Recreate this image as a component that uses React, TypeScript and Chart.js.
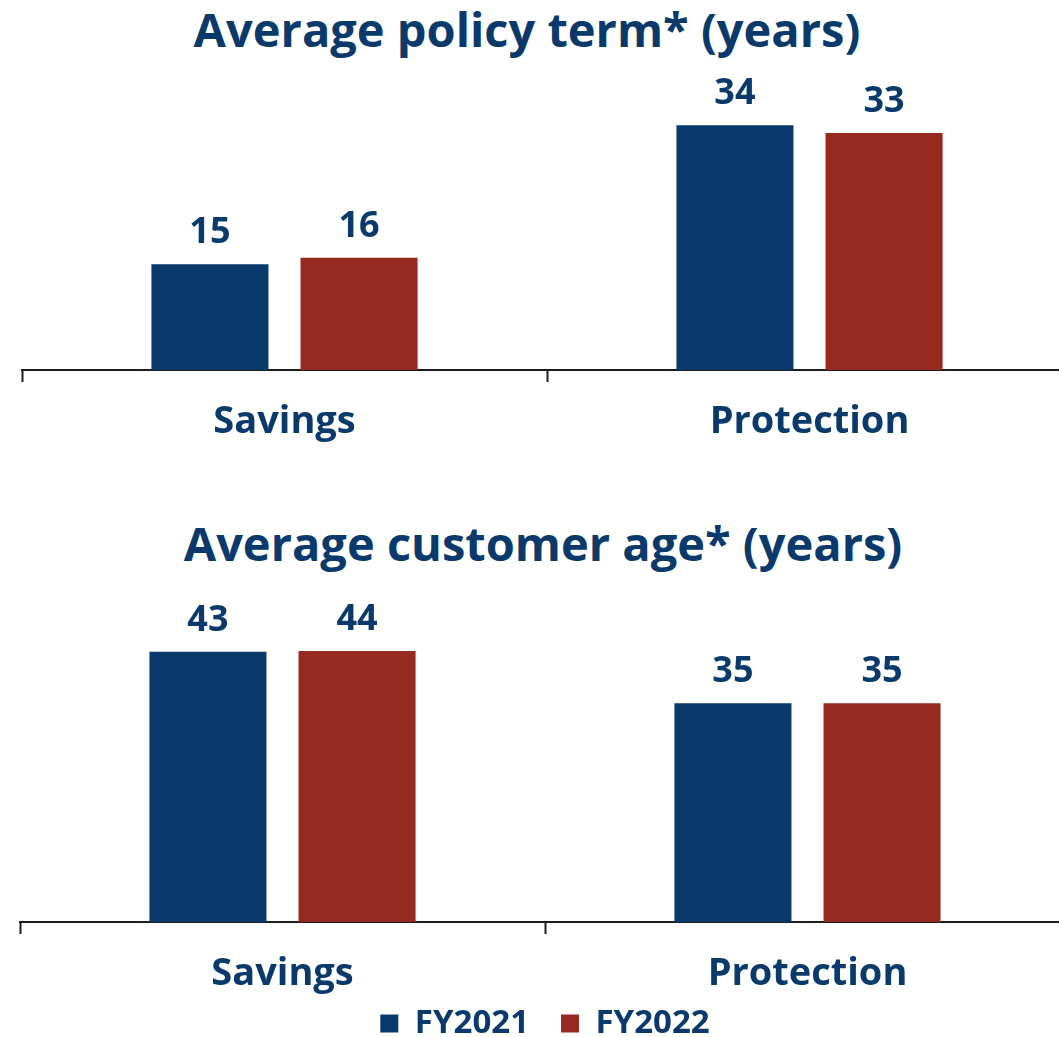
import React, { useEffect, useRef } from 'react';
import { Chart, registerables } from 'chart.js';

Chart.register(...registerables);

// ---- data ----
const categories = ['Savings', 'Protection'];
const seriesNames = ['FY2021', 'FY2022'];
const policyTermFY2021 = [14.7, 34.0];
const policyTermFY2022 = [15.6, 32.9];
const customerAgeFY2021 = [43.4, 35.1];
const customerAgeFY2022 = [43.5, 35.1];
const titles = ['Average policy term* (years)', 'Average customer age* (years)'];

// ---- styles ----
const BLUE = '#0a3a6b';
const RED = '#962920';
const AXIS = '#1c1c1c';
const FONT = '"Open Sans", Lato, "Noto Sans", sans-serif';

const valueLabels = {
  id: 'valueLabels',
  afterDatasetsDraw(chart: any) {
    const ctx = chart.ctx;
    ctx.save();
    ctx.font = `bold 36px ${FONT}`;
    ctx.fillStyle = BLUE;
    ctx.textAlign = 'center';
    ctx.textBaseline = 'alphabetic';
    chart.data.datasets.forEach((ds: any, i: number) => {
      const meta = chart.getDatasetMeta(i);
      meta.data.forEach((bar: any, j: number) => {
        ctx.fillText(String(Math.round(ds.data[j])), bar.x, bar.y - 21);
      });
    });
    ctx.restore();
  },
};

// moves the legend box up after layout (so it can sit closer to the axis labels)
const legendShift = {
  id: 'legendShift',
  afterLayout(chart: any, _args: any, opts: any) {
    const lg = chart.legend;
    if (lg && opts && opts.shift) {
      lg.top -= opts.shift;
      lg.bottom -= opts.shift;
    }
  },
};

function makeConfig(
  a: number[],
  b: number[],
  yMax: number,
  padding: any,
  axisHeight: number,
  showLegend: boolean,
  shift: number
): any {
  const common = { categoryPercentage: 0.568, barPercentage: 0.785, borderWidth: 0 };
  return {
    type: 'bar',
    data: {
      labels: categories,
      datasets: [
        { label: seriesNames[0], data: a, backgroundColor: BLUE, ...common },
        { label: seriesNames[1], data: b, backgroundColor: RED, ...common },
      ],
    },
    options: {
      responsive: false,
      animation: false,
      events: [],
      layout: { padding },
      plugins: {
        title: { display: false },
        tooltip: { enabled: false },
        legendShift: { shift },
        legend: {
          display: showLegend,
          position: 'bottom',
          maxHeight: 60,
          labels: {
            boxWidth: 18,
            boxHeight: 18,
            padding: 32,
            color: BLUE,
            font: { family: FONT, size: 33, weight: 'bold' },
          },
        },
      },
      scales: {
        x: {
          grid: {
            display: true,
            drawOnChartArea: false,
            drawTicks: true,
            tickLength: 12,
            tickWidth: 2,
            tickColor: AXIS,
            offset: true,
          },
          border: { display: true, color: AXIS, width: 2 },
          ticks: {
            color: BLUE,
            padding: 17,
            font: { family: FONT, size: 38, weight: 'bold' },
          },
          afterFit(scale: any) {
            scale.height = axisHeight;
          },
        },
        y: { display: false, min: 0, max: yMax },
      },
    },
    plugins: [valueLabels, legendShift],
  };
}

function BarPanel(props: {
  a: number[];
  b: number[];
  yMax: number;
  padding: any;
  axisHeight: number;
  legend: boolean;
  shift: number;
  top: number;
  width: number;
  height: number;
}) {
  const ref = useRef<HTMLCanvasElement>(null);
  useEffect(() => {
    if (!ref.current) return;
    const chart = new Chart(
      ref.current,
      makeConfig(props.a, props.b, props.yMax, props.padding, props.axisHeight, props.legend, props.shift)
    );
    return () => chart.destroy();
  }, []);
  return (
    <canvas
      ref={ref}
      width={props.width}
      height={props.height}
      style={{ position: 'absolute', left: 0, top: props.top, width: props.width, height: props.height, display: 'block' }}
    />
  );
}

function Title(props: { text: string; center: number; top: number }) {
  return (
    <div
      style={{
        position: 'absolute',
        left: props.center - 530,
        width: 1060,
        top: props.top,
        textAlign: 'center',
        fontFamily: FONT,
        fontWeight: 700,
        fontSize: 47,
        lineHeight: '47px',
        color: BLUE,
        whiteSpace: 'nowrap',
      }}
    >
      {props.text}
    </div>
  );
}

export default function App() {
  return (
    <div
      style={{
        position: 'absolute',
        left: 0,
        top: 0,
        width: 1059,
        height: 1037,
        overflow: 'hidden',
        background: '#ffffff',
      }}
    >
      <Title text={titles[0]} center={527} top={6} />
      <BarPanel
        a={policyTermFY2021}
        b={policyTermFY2022}
        yMax={40}
        padding={{ top: 12, left: 22, right: 28, bottom: 0 }}
        axisHeight={90}
        legend={false}
        shift={0}
        top={70}
        width={1100}
        height={390}
      />
      <Title text={titles[1]} center={543} top={520} />
      <BarPanel
        a={customerAgeFY2021}
        b={customerAgeFY2022}
        yMax={48}
        padding={{ top: 33, left: 20, right: 30, bottom: 0 }}
        axisHeight={76}
        legend={true}
        shift={23}
        top={590}
        width={1100}
        height={468}
      />
    </div>
  );
}
